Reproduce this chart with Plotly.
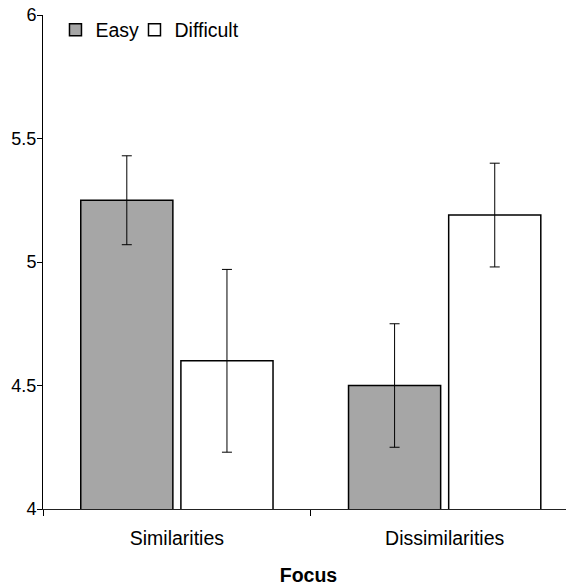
import plotly.graph_objects as go

categories = ["Similarities", "Dissimilarities"]
easy_values = [5.25, 4.50]
easy_err = [0.18, 0.25]
difficult_values = [4.60, 5.19]
difficult_err = [0.37, 0.21]
y_ticks = [4, 4.5, 5, 5.5, 6]

FONT = "Liberation Sans, Arial, sans-serif"

fig = go.Figure()
fig.add_trace(go.Bar(
    name="Easy", x=categories, y=easy_values,
    width=0.344, offset=-0.359, legend="legend",
    marker=dict(color="#a6a6a6", line=dict(color="black", width=1.5)),
    error_y=dict(type="data", array=easy_err, visible=True,
                 color="black", thickness=1, width=5),
))
fig.add_trace(go.Bar(
    name="Difficult", x=categories, y=difficult_values,
    width=0.344, offset=0.015, legend="legend2",
    marker=dict(color="white", line=dict(color="black", width=1.5)),
    error_y=dict(type="data", array=difficult_err, visible=True,
                 color="black", thickness=1, width=5),
))

legend_style = dict(orientation="h", xanchor="left", y=1.009, yanchor="top",
                    font=dict(size=19.5), bgcolor="rgba(0,0,0,0)",
                    itemwidth=30, tracegroupgap=0)

fig.update_layout(
    width=566, height=578,
    margin=dict(l=35, r=0, t=7, b=76.5, autoexpand=False),
    paper_bgcolor="white", plot_bgcolor="white",
    barmode="overlay",
    font=dict(family=FONT, size=19, color="black"),
    showlegend=True,
    legend=dict(x=0.0235, **legend_style),
    legend2=dict(x=0.1723, **legend_style),
)
fig.update_xaxes(
    type="category", range=[-0.5, 1.483], autorange=False,
    showline=True, linecolor="#222", linewidth=1,
    ticks="outside", ticklen=6, tickcolor="black", tickwidth=1,
    tickson="boundaries", showgrid=False, zeroline=False,
    tickfont=dict(size=19.5), ticklabelstandoff=12,
    title=dict(text="<b>Focus</b>", font=dict(size=19.5), standoff=22),
    automargin=False,
)
fig.update_yaxes(
    range=[4, 6], autorange=False, tickvals=y_ticks,
    ticktext=[str(t) for t in y_ticks],
    showline=True, linecolor="black", linewidth=1,
    ticks="outside", ticklen=5, tickcolor="black", tickwidth=1,
    showgrid=False, zeroline=False, tickfont=dict(size=18),
    ticklabelstandoff=-3, ticklabeloverflow="allow", automargin=False,
)

fig.write_html("out.html")
